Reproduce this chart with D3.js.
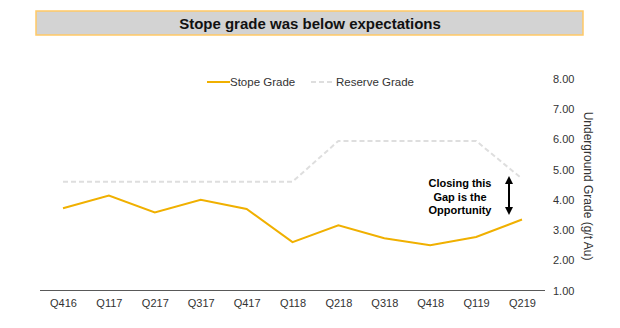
<!DOCTYPE html>
<html><head><meta charset="utf-8">
<script src="https://cdn.jsdelivr.net/npm/d3@7"></script>
<style>body{margin:0;background:#fff;}text{font-family:Arial,"Liberation Sans",sans-serif;}</style>
</head><body>
<svg id="c" width="620" height="328"></svg>
<script>
const categories = ["Q416","Q117","Q217","Q317","Q417","Q118","Q218","Q318","Q418","Q119","Q219"];
const stopeGrade = [3.72,4.14,3.58,4.0,3.70,2.60,3.16,2.73,2.50,2.77,3.35];
const reserveGrade = [4.6,4.6,4.6,4.6,4.6,4.6,5.95,5.95,5.95,5.95,4.7];
const yTicks = [1,2,3,4,5,6,7,8];
const title = "Stope grade was below expectations";
const seriesNames = ["Stope Grade","Reserve Grade"];
const yLabel = "Underground Grade (g/t Au)";
const note = ["Closing this","Gap is the","Opportunity"];

const svg = d3.select("#c");
// title box
svg.append("rect").attr("x",36).attr("y",11).attr("width",547).attr("height",24)
  .attr("fill","#d3d3d3").attr("stroke","#ffc966").attr("stroke-width",1.5);
svg.append("text").attr("x",310).attr("y",28.5).attr("text-anchor","middle")
  .attr("font-size",15).attr("font-weight","bold").attr("fill","#111").text(title);

const x = d3.scalePoint().domain(categories).range([63,522]);
const y = d3.scaleLinear().domain([1,8]).range([290.5,79]);

// baseline
svg.append("line").attr("x1",40).attr("x2",545).attr("y1",y(1)).attr("y2",y(1))
  .attr("stroke","#595959").attr("stroke-width",1);

// x labels
const xAxis = d3.axisBottom(x).tickSize(0).tickPadding(0);
const gx = svg.append("g").attr("transform",`translate(0,${y(1)+9})`).call(xAxis);
gx.select(".domain").remove();
gx.selectAll("text").attr("font-size",11).attr("fill","#333").attr("font-family","Arial, Liberation Sans, sans-serif");

// y labels on right
const yAxis = d3.axisRight(y).tickValues(yTicks).tickFormat(d3.format(".2f")).tickSize(0).tickPadding(0);
const gy = svg.append("g").attr("transform","translate(553,0)").call(yAxis);
gy.select(".domain").remove();
gy.selectAll("text").attr("font-size",11).attr("fill","#333").attr("font-family","Arial, Liberation Sans, sans-serif");

svg.append("text").attr("transform","translate(584,186) rotate(90)").attr("text-anchor","middle")
  .attr("font-size",12).attr("fill","#333").text(yLabel);

const line = d3.line().x((d,i)=>x(categories[i])).y(d=>y(d));
svg.append("path").datum(reserveGrade).attr("d",line).attr("fill","none")
  .attr("stroke","#dedede").attr("stroke-width",2).attr("stroke-dasharray","5,3");
svg.append("path").datum(stopeGrade).attr("d",line).attr("fill","none")
  .attr("stroke","#f0b000").attr("stroke-width",2);

// legend
svg.append("line").attr("x1",207).attr("x2",230).attr("y1",82).attr("y2",82).attr("stroke","#f0b000").attr("stroke-width",2);
svg.append("text").attr("x",230).attr("y",86).attr("font-size",11.5).attr("fill","#333").text(seriesNames[0]);
svg.append("line").attr("x1",311).attr("x2",334).attr("y1",82).attr("y2",82).attr("stroke","#dedede").attr("stroke-width",2).attr("stroke-dasharray","5,3");
svg.append("text").attr("x",336).attr("y",86).attr("font-size",11.5).attr("fill","#333").text(seriesNames[1]);

// annotation
const defs = svg.append("defs");
defs.append("marker").attr("id","ah").attr("viewBox","0 0 10 10").attr("refX",5).attr("refY",5)
  .attr("markerWidth",4).attr("markerHeight",4).attr("orient","auto-start-reverse")
  .append("path").attr("d","M0,0 L10,5 L0,10 z").attr("fill","#000");
svg.append("line").attr("x1",509).attr("x2",509).attr("y1",180).attr("y2",211)
  .attr("stroke","#000").attr("stroke-width",2)
  .attr("marker-start","url(#ah)").attr("marker-end","url(#ah)");
note.forEach((t,i)=>{
  svg.append("text").attr("x",460).attr("y",187+i*13.5).attr("text-anchor","middle")
    .attr("font-size",11).attr("font-weight","bold").attr("fill","#000").text(t);
});
</script>
</body></html>
